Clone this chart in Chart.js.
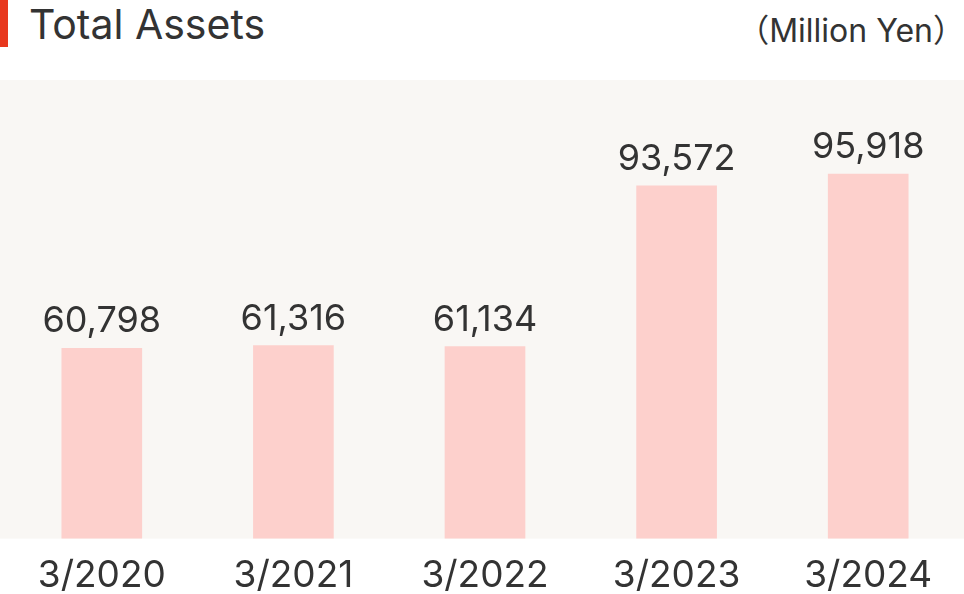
<!DOCTYPE html>
<html>
<head>
<meta charset="utf-8">
<script src="https://cdn.jsdelivr.net/npm/chart.js@4"></script>
<style>
  html, body { margin: 0; padding: 0; background: #fff; }
  body { width: 964px; height: 594px; position: relative; overflow: hidden; font-family: Inter, "Noto Sans CJK JP", sans-serif; color: #333; }
  .mark { position: absolute; left: 0; top: 0; width: 8px; height: 47px; background: #e8381e; }
  .title { position: absolute; left: 29px; top: -1px; font-size: 41px; line-height: 50px; }
  .unit { position: absolute; right: -1px; top: 10px; font-size: 32px; line-height: 42px; }
  #wrap { position: absolute; left: 0; top: 0; width: 964px; height: 613px; }
</style>
</head>
<body>
<div class="mark"></div>
<div class="title">Total Assets</div>
<div class="unit">（Million Yen）</div>
<div id="wrap"><canvas id="myChart"></canvas></div>
<script>
const years = ['3/2020', '3/2021', '3/2022', '3/2023', '3/2024'];
const totalAssets = [60798, 61316, 61134, 93572, 95918];

// light panel behind the bars
const panelBg = {
    id: 'panelBg',
    beforeDraw(chart) {
        const { ctx, chartArea } = chart;
        ctx.save();
        ctx.fillStyle = '#f9f7f4';
        ctx.fillRect(0, chartArea.top, chart.width, chartArea.bottom - chartArea.top);
        ctx.restore();
    }
};

// value above each bar
const valueLabels = {
    id: 'valueLabels',
    afterDatasetsDraw(chart) {
        const { ctx } = chart;
        const meta = chart.getDatasetMeta(0);
        ctx.save();
        ctx.font = '36px Inter';
        ctx.fillStyle = '#333';
        ctx.textAlign = 'center';
        ctx.textBaseline = 'alphabetic';
        meta.data.forEach((bar, i) => {
            ctx.fillText(totalAssets[i].toLocaleString('en-US'), bar.x, bar.y - 16);
        });
        ctx.restore();
    }
};

const ctx = document.getElementById('myChart');
new Chart(ctx, {
    type: 'bar',
    data: {
        labels: years,
        datasets: [{
            data: totalAssets,
            backgroundColor: '#fdd0cc',
            borderWidth: 0,
            barThickness: 80
        }]
    },
    options: {
        responsive: true,
        maintainAspectRatio: false,
        animation: false,
        layout: { padding: { top: 80, left: 6, right: 0, bottom: 0 } },
        plugins: {
            legend: { display: false },
            tooltip: { enabled: false }
        },
        scales: {
            x: {
                grid: { display: false, drawTicks: false },
                border: { display: false },
                ticks: {
                    color: '#333',
                    font: { family: 'Inter', size: 37 },
                    padding: 15,
                    maxRotation: 0
                }
            },
            y: {
                display: false,
                min: 22400,
                max: 114900
            }
        }
    },
    plugins: [panelBg, valueLabels]
});
</script>
</body>
</html>
